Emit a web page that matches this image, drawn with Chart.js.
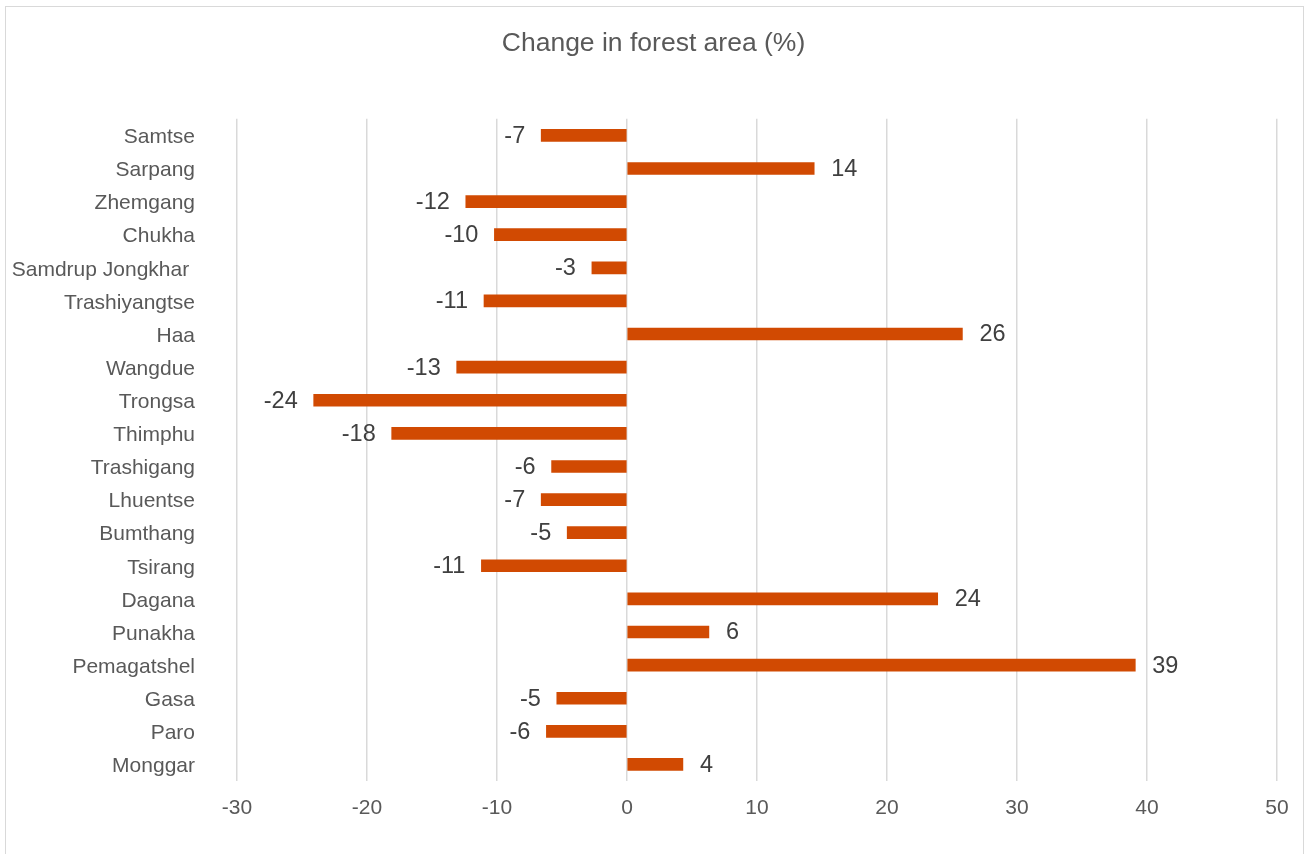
<!DOCTYPE html>
<html>
<head>
<meta charset="utf-8">
<script src="https://cdn.jsdelivr.net/npm/chart.js@4"></script>
<style>
  html, body { margin: 0; padding: 0; background: #fff; overflow: hidden; }
  #wrap { position: relative; width: 1307px; height: 854px; }
  #frame { position: absolute; left: 5px; top: 6px; width: 1299px; height: 870px; border: 1px solid #d9d9d9; box-sizing: border-box; }
  canvas { position: absolute; left: 0; top: 0; }
</style>
</head>
<body>
<div id="wrap">
  <div id="frame"></div>
  <canvas id="forestChart" width="1307" height="854"></canvas>
</div>
<script>
const districts = [
  "Samtse", "Sarpang", "Zhemgang", "Chukha", "Samdrup Jongkhar ", "Trashiyangtse",
  "Haa", "Wangdue", "Trongsa", "Thimphu", "Trashigang", "Lhuentse", "Bumthang",
  "Tsirang", "Dagana", "Punakha", "Pemagatshel", "Gasa", "Paro", "Monggar"
];
const changePct = [
  -6.6, 14.4, -12.4, -10.2, -2.7, -11.0,
  25.8, -13.1, -24.1, -18.1, -5.8, -6.6, -4.6,
  -11.2, 23.9, 6.3, 39.1, -5.4, -6.2, 4.3
];
const xTicks = [-30, -20, -10, 0, 10, 20, 30, 40, 50];

const FONT = "'Liberation Sans', Arial, sans-serif";

// simple value labels at the end of each bar
const barLabels = {
  id: "barLabels",
  afterDatasetsDraw(chart) {
    const ctx = chart.ctx;
    const meta = chart.getDatasetMeta(0);
    ctx.save();
    ctx.font = "23.5px " + FONT;
    ctx.fillStyle = "#404040";
    ctx.textBaseline = "middle";
    meta.data.forEach((bar, i) => {
      const v = changePct[i];
      const txt = String(Math.round(v));
      if (v >= 0) {
        ctx.textAlign = "left";
        ctx.fillText(txt, bar.x + 17, bar.y + 1);
      } else {
        ctx.textAlign = "right";
        ctx.fillText(txt, bar.x - 16, bar.y + 1);
      }
    });
    ctx.restore();
  }
};

const ctx = document.getElementById("forestChart");
new Chart(ctx.getContext("2d"), {
  type: "bar",
  data: {
    labels: districts,
    datasets: [{
      data: changePct,
      backgroundColor: "#D14A02",
      barThickness: 12
    }]
  },
  options: {
    indexAxis: "y",
    responsive: false,
    animation: false,
    layout: { padding: 0 },
    plugins: {
      legend: { display: false },
      tooltip: { enabled: false },
      title: {
        display: true,
        text: "Change in forest area (%)",
        color: "#595959",
        font: { family: FONT, size: 26.5, weight: "normal", lineHeight: 1.2 },
        padding: { top: 28, bottom: 59 }
      }
    },
    scales: {
      x: {
        min: -30,
        max: 50,
        afterBuildTicks: s => { s.ticks = xTicks.map(v => ({ value: v })); },
        afterFit: s => { s.height = 73; },
        grid: { color: "#d9d9d9", lineWidth: 1.5, drawTicks: false },
        border: { display: false },
        ticks: { color: "#595959", font: { family: FONT, size: 21 }, padding: 15 }
      },
      y: {
        afterFit: s => { s.width = 237; },
        grid: { display: false, drawTicks: false },
        border: { display: false },
        ticks: { color: "#595959", font: { family: FONT, size: 21 }, padding: 42, labelOffset: 2, autoSkip: false }
      },
      // empty right-hand axis, only keeps space on the right
      yRight: {
        type: "category",
        position: "right",
        afterFit: s => { s.width = 30; },
        grid: { display: false, drawTicks: false },
        border: { display: false },
        ticks: { display: false }
      }
    }
  },
  plugins: [barLabels]
});
</script>
</body>
</html>
